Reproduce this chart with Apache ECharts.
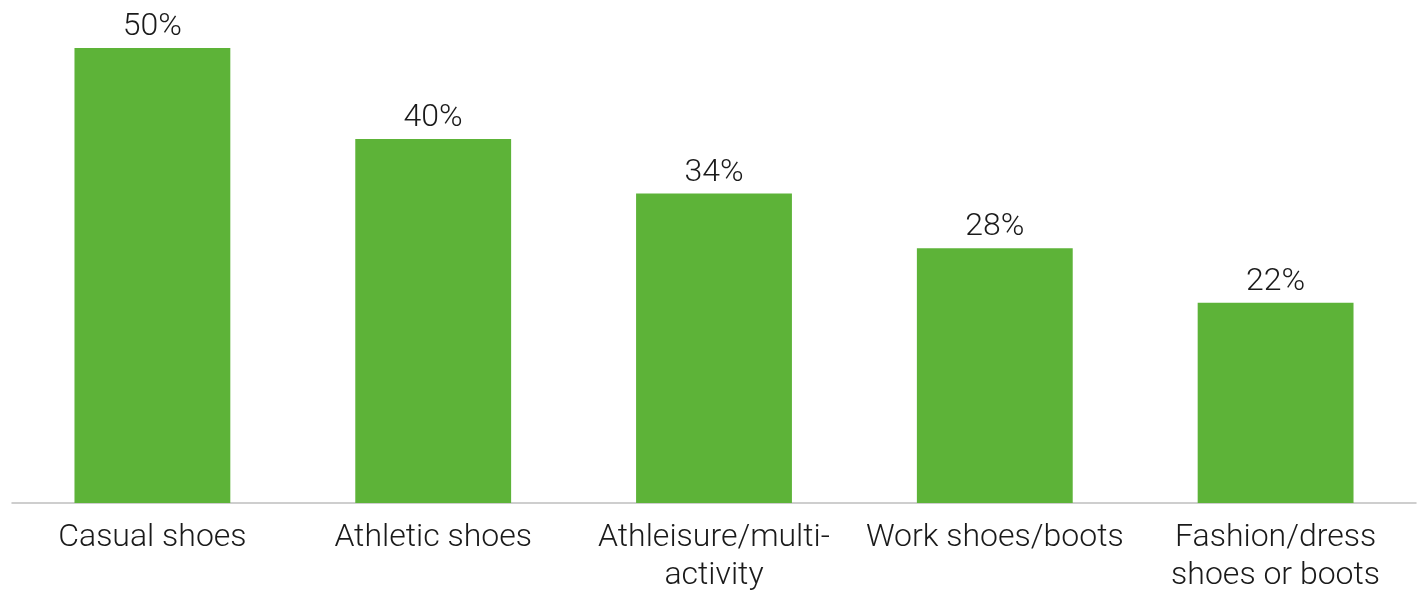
<!DOCTYPE html>
<html>
<head>
<meta charset="utf-8">
<script src="https://cdn.jsdelivr.net/npm/echarts@6/dist/echarts.min.js"></script>
<style>
  html, body { margin: 0; padding: 0; background: #ffffff; }
  #chart { width: 1426px; height: 590px; }
</style>
</head>
<body>
<div id="chart"></div>
<script>
// Footwear types, share of respondents (%)
const categories = ['Casual shoes', 'Athletic shoes', 'Athleisure/multi-\nactivity', 'Work shoes/boots', 'Fashion/dress\nshoes or boots'];
const shares = [50, 40, 34, 28, 22];

const chart = echarts.init(document.getElementById('chart'), null, { renderer: 'canvas' });
chart.setOption({
  animation: false,
  backgroundColor: '#ffffff',
  grid: { left: 12, right: 10, top: 48, bottom: 87, containLabel: false, outerBoundsMode: 'none' },
  xAxis: {
    type: 'category',
    data: categories,
    axisLine: { show: true, lineStyle: { color: '#bfbfbf', width: 1.5 } },
    axisTick: { show: false },
    axisLabel: {
      interval: 0,
      margin: 16,
      color: '#1a1a1a',
      fontFamily: 'Roboto',
      fontWeight: 300,
      fontSize: 32,
      lineHeight: 38
    }
  },
  yAxis: {
    type: 'value',
    min: 0,
    max: 50,
    show: false,
    splitLine: { show: false }
  },
  series: [{
    type: 'bar',
    data: shares,
    barWidth: '55.5%',
    itemStyle: { color: '#5db338' },
    label: {
      show: true,
      position: 'top',
      distance: 5,
      formatter: '{c}%',
      color: '#1a1a1a',
      fontFamily: 'Roboto',
      fontWeight: 300,
      fontSize: 32
    }
  }]
});
</script>
</body>
</html>
